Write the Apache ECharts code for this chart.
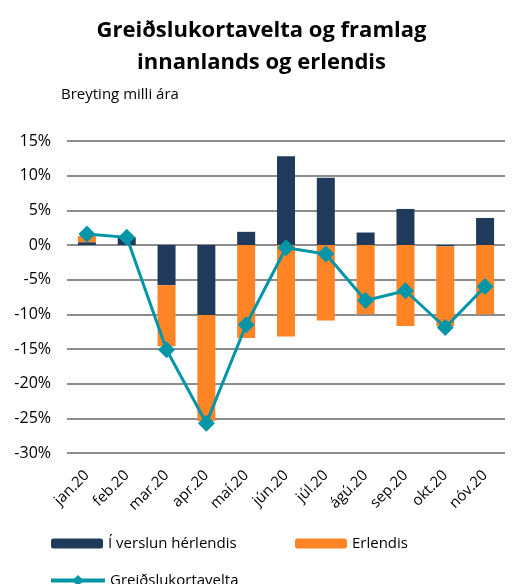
<!DOCTYPE html>
<html>
<head>
<meta charset="utf-8">
<script src="https://cdn.jsdelivr.net/npm/echarts@6/dist/echarts.min.js"></script>
<style>
  html, body { margin: 0; padding: 0; background: #fff; }
  #chart { width: 523px; height: 584px; }
</style>
</head>
<body>
<div id="chart"></div>
<script>
var months = ['jan.20', 'feb.20', 'mar.20', 'apr.20', 'maí.20', 'jún.20', 'júl.20', 'ágú.20', 'sep.20', 'okt.20', 'nóv.20'];
var domestic = [0.4, 1.1, -5.8, -10.1, 1.9, 12.8, 9.7, 1.8, 5.2, -0.2, 3.9];
var abroad = [0.9, 0.1, -8.8, -15.3, -13.4, -13.2, -10.9, -10.0, -11.7, -11.5, -10.0];
var total = [1.6, 1.1, -15.1, -25.7, -11.5, -0.4, -1.3, -8.0, -6.6, -11.9, -6.0];
var yTicks = [-30, -25, -20, -15, -10, -5, 0, 5, 10, 15];

(function () {
    var font = '"Open Sans", "Noto Sans", sans-serif';
    var chart = echarts.init(document.getElementById('chart'));
    var legendText = { fontFamily: font, fontSize: 15, color: '#000' };

    chart.setOption({
        animation: false,
        title: [
            { text: 'Greiðslukortavelta og framlag\ninnanlands og erlendis', left: 'center', top: 10,
              textStyle: { fontFamily: font, fontSize: 22, fontWeight: 'bold', color: '#000', lineHeight: 32 } },
            { text: 'Breyting milli ára', left: 56, top: 82,
              textStyle: { fontFamily: font, fontSize: 15, fontWeight: 'normal', color: '#000' } }
        ],
        grid: { left: 67, right: 18, top: 141, bottom: 131 },
        legend: [
            { data: ['Í verslun hérlendis'], left: 46, top: 531, itemWidth: 52, itemHeight: 10, textStyle: legendText },
            { data: ['Erlendis'], left: 290, top: 531, itemWidth: 52, itemHeight: 10, textStyle: legendText },
            { data: ['Greiðslukortavelta'], left: 44, top: 568, itemWidth: 54, itemHeight: 14, textStyle: legendText,
              lineStyle: { width: 4 } }
        ],
        xAxis: {
            type: 'category',
            data: months,
            axisLine: { show: false },
            axisTick: { show: false },
            axisLabel: { rotate: 45, margin: 20, fontFamily: font, fontSize: 15, color: '#000', interval: 0 }
        },
        yAxis: {
            type: 'value',
            min: -30, max: 15, interval: 5,
            axisLabel: {
                fontFamily: font, fontSize: 16, color: '#000', margin: 16,
                formatter: function (v) { return yTicks.indexOf(v) >= 0 ? v + '%' : ''; }
            },
            splitLine: { lineStyle: { color: '#8c8c8c', width: 2 } }
        },
        series: [
            { name: 'Í verslun hérlendis', type: 'bar', stack: 'a', data: domestic, barWidth: 18,
              itemStyle: { color: '#1f3a5a' } },
            { name: 'Erlendis', type: 'bar', stack: 'a', data: abroad, barWidth: 18,
              itemStyle: { color: '#ff8426' } },
            { name: 'Greiðslukortavelta', type: 'line', data: total, symbol: 'diamond', symbolSize: 17,
              lineStyle: { color: '#0096a8', width: 3 }, itemStyle: { color: '#0096a8' }, z: 5 }
        ]
    });
})();
</script>
</body>
</html>
